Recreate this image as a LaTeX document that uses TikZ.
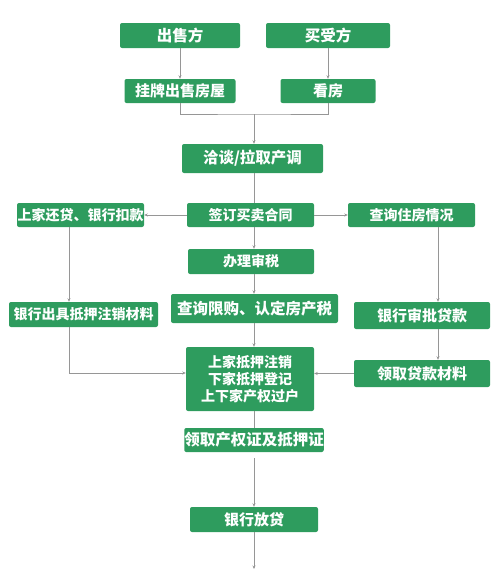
\documentclass[tikz,border=0pt]{standalone}
\usepackage{fontspec}
\newfontfamily\cjk{Noto Sans CJK SC}
\usetikzlibrary{arrows.meta}
\definecolor{boxgreen}{RGB}{46,156,94}
\definecolor{linegray}{RGB}{150,150,150}
\tikzset{
  stepbox/.style={rectangle, rounded corners=2pt, fill=boxgreen, text=white,
    inner sep=0pt, align=center, minimum height=24pt,
    font=\cjk\bfseries\fontsize{14}{17}\selectfont},
  midtext/.style={font=\cjk\bfseries\fontsize{15}{18}\selectfont},
  bigtext/.style={font=\cjk\bfseries\fontsize{15.5}{18}\selectfont},
  link/.style={draw=linegray, line width=0.8pt},
  arr/.style={link, -{Stealth[length=3.5pt,width=3pt]}}
}
\begin{document}
\begin{tikzpicture}[x=1pt,y=-1pt]
\useasboundingbox (0,0) rectangle (500,570);
% top row
\node[stepbox, minimum width=120pt, minimum height=25pt, bigtext] (sell) at (180,35.5) {出售方};
\node[stepbox, minimum width=124pt, minimum height=25pt, bigtext] (buy) at (328,35.5) {买受方};
\node[stepbox, minimum width=111pt, midtext] (list) at (180,91) {挂牌出售房屋};
\node[stepbox, minimum width=95pt, midtext] (view) at (328,91) {看房};
\node[stepbox, minimum width=141pt, minimum height=29pt, bigtext] (talk) at (252.5,158.5) {洽谈/拉取产调};
% middle rows
\node[stepbox, minimum width=127pt] (repay) at (80.5,215) {上家还贷、银行扣款};
\node[stepbox, minimum width=127pt] (sign) at (250.5,215) {签订买卖合同};
\node[stepbox, minimum width=127pt] (check) at (411.5,215) {查询住房情况};
\node[stepbox, minimum width=126pt, minimum height=25pt] (tax) at (251,261.5) {办理审税};
\node[stepbox, minimum width=167pt, minimum height=29pt, bigtext] (limit) at (254.5,308.5) {查询限购、认定房产税};
\node[stepbox, minimum width=149pt, minimum height=25pt] (release) at (83.5,314.5) {银行出具抵押注销材料};
\node[stepbox, minimum width=136pt, minimum height=27pt, midtext] (approve) at (422,315.5) {银行审批贷款};
\node[stepbox, minimum width=128pt, minimum height=64pt] (merge) at (250,379) {上家抵押注销\\下家抵押登记\\上下家产权过户};
\node[stepbox, minimum width=136pt, minimum height=27pt, midtext] (collect) at (422,373.5) {领取贷款材料};
% bottom rows
\node[stepbox, minimum width=136pt, bigtext] (cert) at (254,440) {领取产权证及抵押证};
\node[stepbox, minimum width=128pt, minimum height=25pt, midtext] (loan) at (254,519.5) {银行放贷};
% helper points
\coordinate (join) at (254,114);
\coordinate (mid) at (254,0);
\coordinate (lcol) at (69,0);
\coordinate (rcol) at (438,0);
\coordinate (lturn) at (69,373);
\coordinate (gap) at (254,458);
\coordinate (bottom) at (254,569);
% connectors
\draw[arr] (sell) -- (list);
\draw[arr] (buy) -- (view);
\draw[link] (list.south) |- (join) -| (view.south);
\draw[arr] (join) -- (join |- talk.north);
\draw[link] (talk.south -| mid) -- (sign.north -| mid);
\draw[arr] (sign.west) -- (repay.east);
\draw[arr] (sign.east) -- (check.west);
\draw[arr] (sign.south -| mid) -- (tax.north -| mid);
\draw[arr] (tax.south -| mid) -- (limit.north -| mid);
\draw[arr] (limit.south -| mid) -- (merge.north -| mid);
\draw[link] (merge.south -| mid) -- (cert.north -| mid);
\draw[arr] (gap) -- (loan.north -| mid);
\draw[arr] (loan.south -| mid) -- (bottom);
\draw[arr] (repay.south -| lcol) -- (release.north -| lcol);
\draw[arr] (release.south -| lcol) |- (merge.west |- lturn);
\draw[arr] (check.south -| rcol) -- (approve.north -| rcol);
\draw[arr] (approve.south -| rcol) -- (collect.north -| rcol);
\draw[arr] (collect.west) -- (merge.east |- collect.west);
\end{tikzpicture}
\end{document}
